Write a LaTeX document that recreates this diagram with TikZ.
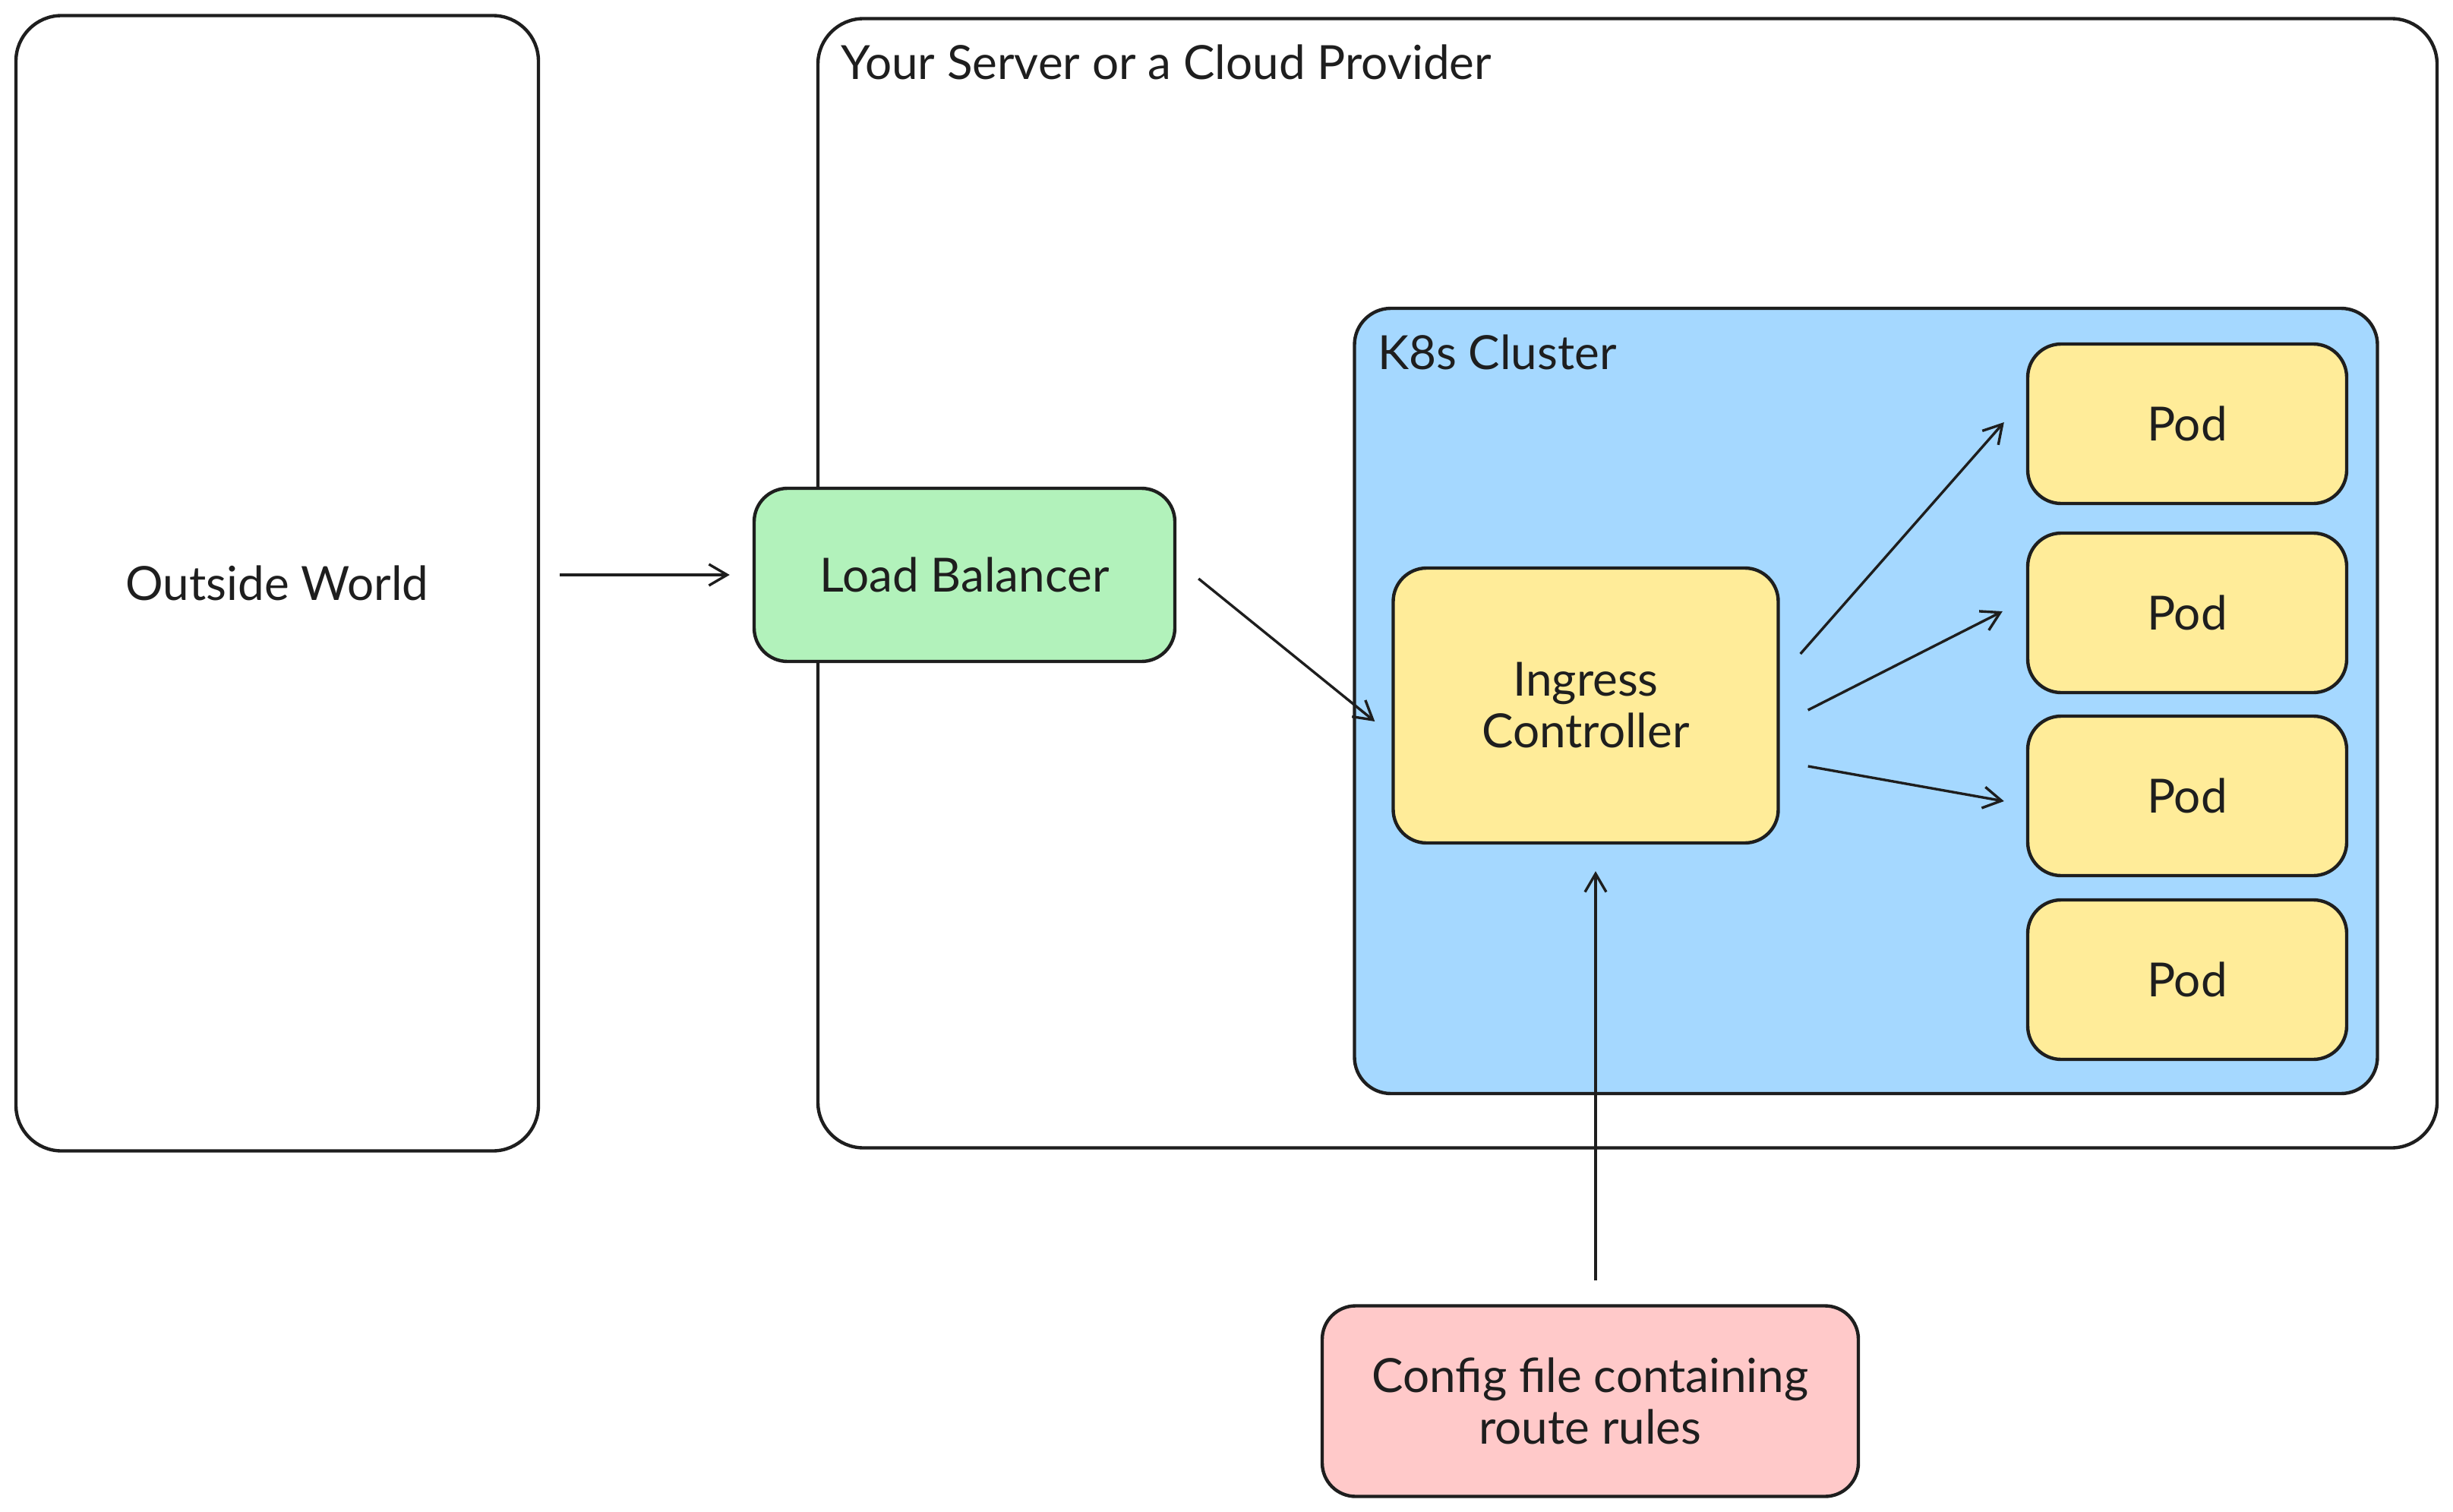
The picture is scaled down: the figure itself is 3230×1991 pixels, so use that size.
\documentclass[tikz,border=0pt]{standalone}
\usepackage{fontspec}
\setmainfont{Lato}
\usetikzlibrary{arrows.meta,calc}
\definecolor{ink}{HTML}{1E1E1E}
\definecolor{lbgreen}{HTML}{B2F2BB}
\definecolor{k8sblue}{HTML}{A5D8FF}
\definecolor{podyellow}{HTML}{FFEC99}
\definecolor{cfgred}{HTML}{FFC9C9}
\tikzset{
  sk/.style={draw=ink, line width=2.2pt, rounded corners=#1},
  sk/.default=22pt,
  txt/.style={text=ink, font=\fontsize{31}{34}\selectfont},
  arr/.style={draw=ink, line width=1.7pt, -{Straight Barb[length=12pt,width=14pt,line width=1.7pt]}},
}
\begin{document}
\begin{tikzpicture}[x=0.5pt,y=-0.5pt]
\useasboundingbox[fill=white] (0,0) rectangle (3230,1991);
% containers
\node[sk=30pt, minimum width=344pt, minimum height=747.5pt, txt] (outside) at (365,768) {Outside World};
\node[sk=30pt, minimum width=1066pt, minimum height=743.5pt] (server) at (2143,768) {};
\node[txt, anchor=west] (serverlbl) at (1100,82) {Your Server or a Cloud Provider};
\node[sk=24pt, fill=k8sblue, minimum width=673.5pt, minimum height=517pt] (k8s) at (2457,923) {};
\node[txt, anchor=west] (k8slbl) at (1807,464) {K8s Cluster};
% boxes
\node[sk, fill=lbgreen, minimum width=277pt, minimum height=114pt, txt] (lb) at (1270,757) {Load Balancer};
\node[sk, fill=podyellow, minimum width=253.5pt, minimum height=181pt, txt, align=center] (ing) at (2088,929) {Ingress\\Controller};
\node[sk, fill=podyellow, minimum width=210pt, minimum height=105pt, txt] (pod1) at (2880,558) {Pod};
\node[sk, fill=podyellow, minimum width=210pt, minimum height=105pt, txt] (pod2) at (2880,807) {Pod};
\node[sk, fill=podyellow, minimum width=210pt, minimum height=105pt, txt] (pod3) at (2880,1048) {Pod};
\node[sk, fill=podyellow, minimum width=210pt, minimum height=105pt, txt] (pod4) at (2880,1290) {Pod};
\node[sk, fill=cfgred, minimum width=353pt, minimum height=125.5pt, txt, align=center] (cfg) at (2094,1845) {Config file containing\\route rules};
% connectors
\draw[arr] ([xshift=13pt]outside.east |- lb.west) -- ([xshift=-15pt]lb.west);
\draw[arr] ([shift={(29,5)}]lb.east) -- ([shift={(-22,21)}]ing.west);
\draw[arr] ([shift={(27,-68)}]ing.east) -- ([shift={(-29,-2)}]pod1.west);
\draw[arr] ([shift={(37,6)}]ing.east) -- ([shift={(-31,-2)}]pod2.west);
\draw[arr] ([shift={(37,80)}]ing.east) -- ([shift={(-29,7)}]pod3.west);
\draw[arr] ([shift={(7,-31)}]cfg.north) -- ([shift={(13,35)}]ing.south);
\end{tikzpicture}
\end{document}
